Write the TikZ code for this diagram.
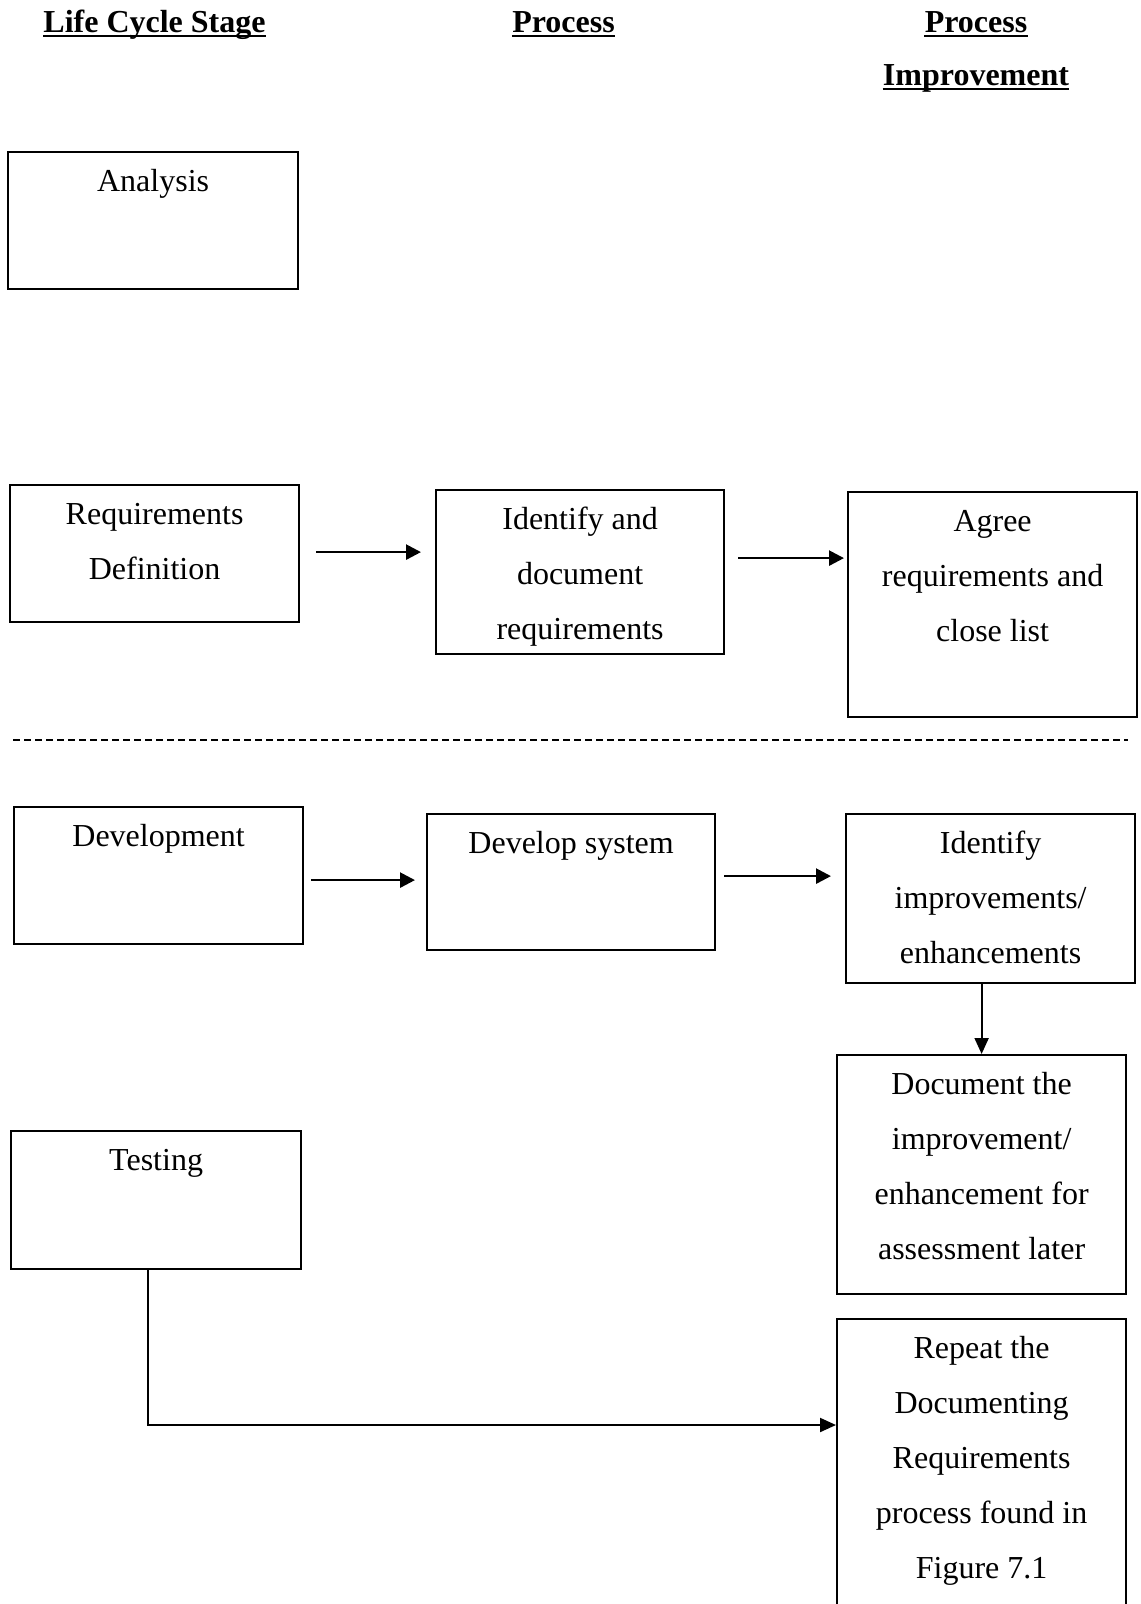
\documentclass[tikz,border=0pt]{standalone}
\usepackage{fontspec}
\setmainfont{Liberation Serif}
\usetikzlibrary{arrows.meta,calc}
\begin{document}
\begin{tikzpicture}[x=0.5pt,y=-0.5pt,
  box/.style={draw,line width=1.1pt,rectangle,inner sep=0pt,anchor=north west},
  txt/.style={anchor=north,inner sep=0pt,align=center,font=\fontsize{16}{27.5}\selectfont},
  head/.style={anchor=base,inner sep=0pt,font=\fontsize{16}{20}\selectfont\bfseries},
  uline/.style={line width=1.1pt},
  arr/.style={line width=1.3pt,-{Triangle[length=7.5pt,width=7.5pt]}},
  thinarr/.style={line width=1pt,-{Triangle[length=8pt,width=7pt]}},
  sep/.style={line width=1pt,dash pattern=on 3.5pt off 2pt}]
\useasboundingbox (0,0) rectangle (1140,1604);

% headers
\node[head] (h1) at (154.5,33) {Life Cycle Stage};
\node[head] (h2) at (563.5,33) {Process};
\node[head] (h3) at (976,33) {Process};
\node[head] (h4) at (976,86) {Improvement};
\foreach \h in {h1,h2,h3,h4}
  \draw[uline] ($(\h.base west)+(0,3)$) -- ($(\h.base east)+(0,3)$);

% boxes
\node[box,minimum width=145pt,minimum height=68.5pt] (ana) at (7,151) {};
\node[box,minimum width=144.5pt,minimum height=68.5pt] (rd) at (9,484) {};
\node[box,minimum width=144pt,minimum height=82pt] (id) at (435,489) {};
\node[box,minimum width=144.5pt,minimum height=112.5pt] (ag) at (847,491) {};
\node[box,minimum width=144.5pt,minimum height=68.5pt] (dev) at (13,806) {};
\node[box,minimum width=144pt,minimum height=68pt] (ds) at (426,813) {};
\node[box,minimum width=144.5pt,minimum height=84.5pt] (ii) at (845,813) {};
\node[box,minimum width=144.5pt,minimum height=119.5pt] (doc) at (836,1054) {};
\node[box,minimum width=145pt,minimum height=69pt] (test) at (10,1130) {};
\node[box,minimum width=144.5pt,minimum height=165pt] (rep) at (836,1318) {};

% texts
\node[txt] (anaT) at ($(ana.north)+(0,1.5)$) {\strut Analysis};
\node[txt] (rdT) at ($(rd.north)+(0,1.5)$) {\strut Requirements\\Definition};
\node[txt] (idT) at ($(id.north)+(0,1.5)$) {\strut Identify and\\document\\requirements};
\node[txt] (agT) at ($(ag.north)+(0,1.5)$) {\strut Agree\\requirements and\\close list};
\node[txt] (devT) at ($(dev.north)+(0,1.5)$) {\strut Development};
\node[txt] (dsT) at ($(ds.north)+(0,1.5)$) {\strut Develop system};
\node[txt] (iiT) at ($(ii.north)+(0,1.5)$) {\strut Identify\\improvements/\\enhancements};
\node[txt] (docT) at ($(doc.north)+(0,1.5)$) {\strut Document the\\improvement/\\enhancement for\\assessment later};
\node[txt] (testT) at ($(test.north)+(0,1.5)$) {\strut Testing};
\node[txt] (repT) at ($(rep.north)+(0,1.5)$) {\strut Repeat the\\Documenting\\Requirements\\process found in\\Figure 7.1};

% separator
\coordinate (sepL) at (13,740);
\coordinate (sepR) at (1128,740);
\draw[sep] (sepL) -- (sepR);

% arrows
\coordinate (a1) at ($(rd.east)+(16,-1.5)$);
\draw[arr,shorten >=7pt] (a1) -- (a1 -| id.west);
\coordinate (a2) at ($(id.east)+(13,-14)$);
\draw[arr,shorten >=1.5pt] (a2) -- (a2 -| ag.west);
\coordinate (a3) at ($(dev.east)+(7,4.5)$);
\draw[arr,shorten >=5.5pt] (a3) -- (a3 -| ds.west);
\coordinate (a4) at ($(ds.east)+(8,-6)$);
\draw[arr,shorten >=7pt] (a4) -- (a4 -| ii.west);
\draw[thinarr] (ii.south -| doc.north) -- (doc.north);
\coordinate (tt) at (148,1425);
\draw[thinarr] (test.south -| tt) |- (tt -| rep.west);
\end{tikzpicture}
\end{document}
